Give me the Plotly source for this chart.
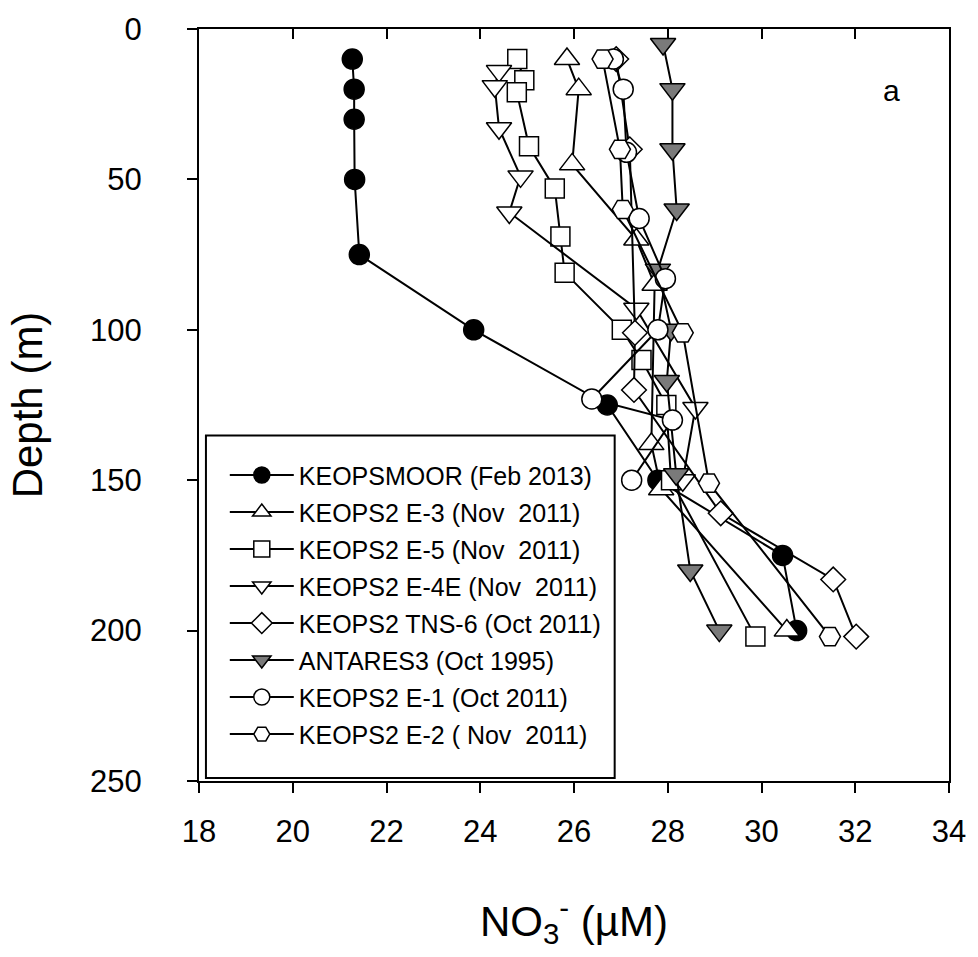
import plotly.graph_objects as go

# ---------------- data ----------------
names = [
    "KEOPSMOOR (Feb 2013)",
    "KEOPS2 E-3 (Nov  2011)",
    "KEOPS2 E-5 (Nov  2011)",
    "KEOPS2 E-4E (Nov  2011)",
    "KEOPS2 TNS-6 (Oct 2011)",
    "ANTARES3 (Oct 1995)",
    "KEOPS2 E-1 (Oct 2011)",
    "KEOPS2 E-2 ( Nov  2011)",
]

moor_depth = [10, 20, 30, 50, 75, 100, 125, 150, 175, 200]
moor_no3 = [21.27, 21.31, 21.31, 21.32, 21.42, 23.86, 26.71, 27.79, 30.45, 30.75]

e3_depth = [10, 20, 45, 70, 85, 138, 153, 200]
e3_no3 = [25.85, 26.10, 25.96, 27.33, 27.72, 27.65, 27.86, 30.54]

e5_depth = [10, 17, 21, 39, 53, 69, 81, 100, 110, 125, 150, 202]
e5_no3 = [24.79, 24.94, 24.78, 25.04, 25.59, 25.71, 25.80, 27.02, 27.44, 27.97, 28.07, 29.87]

e4e_depth = [14, 19, 33, 49, 61, 93, 126, 150]
e4e_no3 = [24.40, 24.31, 24.40, 24.86, 24.62, 27.33, 28.59, 28.32]

tns6_depth = [10, 40, 101, 120, 161, 183, 202]
tns6_no3 = [26.90, 27.19, 27.30, 27.28, 29.13, 31.53, 32.02]

ant_depth = [5, 20, 40, 60, 80, 100, 117, 148, 180, 200]
ant_no3 = [27.90, 28.10, 28.10, 28.19, 27.79, 28.07, 27.98, 28.18, 28.48, 29.10]

e1_depth = [10, 20, 41, 63, 83, 100, 123, 130, 150]
e1_no3 = [26.84, 27.05, 27.12, 27.39, 27.95, 27.79, 26.38, 28.10, 27.23]

e2_depth = [10, 40, 60, 101, 151, 202]
e2_no3 = [26.61, 26.98, 27.04, 28.32, 28.88, 31.46]

x_ticks = [18, 20, 22, 24, 26, 28, 30, 32, 34]
y_ticks = [0, 50, 100, 150, 200, 250]

series = [
    (moor_no3, moor_depth, "circle", "black", 20),
    (e3_no3, e3_depth, "triangle-up", "white", 22),
    (e5_no3, e5_depth, "square", "white", 19),
    (e4e_no3, e4e_depth, "triangle-down", "white", 22),
    (tns6_no3, tns6_depth, "diamond", "white", 19),
    (ant_no3, ant_depth, "triangle-down", "#7a7a7a", 22),
    (e1_no3, e1_depth, "circle", "white", 20),
    (e2_no3, e2_depth, "hexagon2", "white", 21),
]

FONT = "Liberation Sans, Arial, Helvetica, sans-serif"

fig = go.Figure()
for i, (xv, yv, sym, fill, sz) in enumerate(series):
    fig.add_trace(go.Scatter(
        x=xv, y=yv, mode="lines+markers", name=names[i],
        legendgroup=f"g{i}",
        line=dict(color="black", width=2),
        marker=dict(symbol=sym, size=sz, color=fill,
                    line=dict(color="black", width=1.5)),
    ))

W, H = 978, 957
L, R, T, B = 199, 955, 26, 781

fig.update_layout(
    width=W, height=H,
    margin=dict(l=L, r=W - R, t=T, b=H - B, pad=0),
    paper_bgcolor="white", plot_bgcolor="white",
    font=dict(family=FONT, color="black"),
    showlegend=True,
    legend=dict(
        x=(225 - L) / (R - L), y=(B - 451) / (B - T),
        xanchor="left", yanchor="top",
        bgcolor="rgba(0,0,0,0)", borderwidth=0,
        font=dict(size=25, family=FONT),
        itemwidth=64, tracegroupgap=1.5, traceorder="grouped",
    ),
    xaxis=dict(
        range=[18, 34], tickvals=x_ticks, ticktext=[str(v) for v in x_ticks],
        showgrid=False, zeroline=False,
        showline=True, linecolor="black", linewidth=2, mirror=False,
        ticks="outside", ticklen=10, tickwidth=1.5, tickcolor="black",
        tickfont=dict(size=31, family=FONT),
        ticklabelstandoff=12,
        title=dict(text="NO<sub>3</sub><sup>-</sup> (µM)",
                   font=dict(size=42, family=FONT), standoff=58),
    ),
    xaxis2=dict(
        range=[18, 34], overlaying="x", side="top", matches="x",
        tickvals=x_ticks, showticklabels=False,
        showgrid=False, zeroline=False,
        showline=True, linecolor="black", linewidth=2,
        ticks="inside", ticklen=10, tickwidth=1.5, tickcolor="black",
    ),
    yaxis=dict(
        range=[250, 0], tickvals=y_ticks, ticktext=[str(v) for v in y_ticks],
        showgrid=False, zeroline=False,
        showline=True, linecolor="black", linewidth=2, mirror=True,
        ticks="outside", ticklen=10, tickwidth=1.5, tickcolor="black",
        tickfont=dict(size=31, family=FONT),
        ticklabelstandoff=39,
        title=dict(text="Depth (m)", font=dict(size=42, family=FONT), standoff=34),
    ),
    shapes=[dict(
        type="rect", xref="paper", yref="paper",
        x0=(206 - L) / (R - L), x1=(618 - L) / (R - L),
        y0=(B - 778) / (B - T), y1=(B - 434) / (B - T),
        line=dict(color="black", width=2), fillcolor="rgba(0,0,0,0)",
        layer="below",
    )],
    annotations=[dict(
        text="a", xref="paper", yref="paper",
        x=(897 - L) / (R - L), y=(B - 88) / (B - T),
        showarrow=False, font=dict(size=30, family=FONT),
        xanchor="center", yanchor="middle",
    )],
)
# dummy trace to activate top axis
fig.add_trace(go.Scatter(x=[None], y=[None], xaxis="x2", showlegend=False, hoverinfo="skip"))

fig.write_html("out.html")
